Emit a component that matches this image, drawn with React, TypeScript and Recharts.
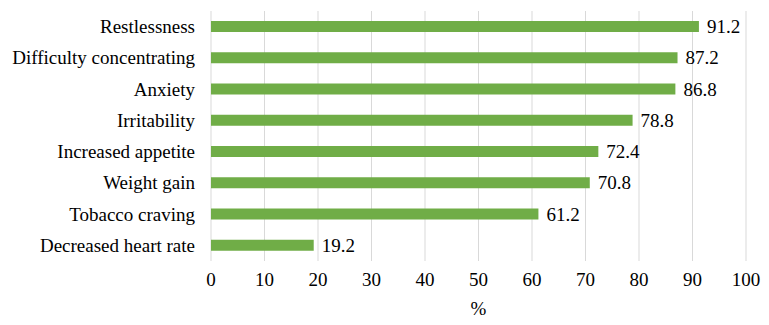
import { Bar, BarChart, CartesianGrid, LabelList, XAxis, YAxis } from 'recharts'

const symptoms = [
  'Restlessness',
  'Difficulty concentrating',
  'Anxiety',
  'Irritability',
  'Increased appetite',
  'Weight gain',
  'Tobacco craving',
  'Decreased heart rate',
]
const percents = [91.2, 87.2, 86.8, 78.8, 72.4, 70.8, 61.2, 19.2]
const xTicks = [0, 10, 20, 30, 40, 50, 60, 70, 80, 90, 100]

const data = symptoms.map((name, i) => ({ name, value: percents[i] }))

const FONT = 'Liberation Serif'
const SIZE = 19
const txt = { fill: '#000', fontSize: SIZE, fontFamily: FONT, style: { fontFamily: FONT, fontSize: SIZE } }

const YTick = ({ x, y, payload }: any) => (
  <text x={x} y={y} textAnchor="end" dominantBaseline="central" {...txt}>
    {payload.value}
  </text>
)

const XTick = ({ x, y, payload }: any) => (
  <text x={x} y={y} textAnchor="middle" dy="0.72em" {...txt}>
    {payload.value}
  </text>
)

const ValueLabel = ({ x, y, width, height, value }: any) => (
  <text x={x + width + 8} y={y + height / 2} dominantBaseline="central" {...txt}>
    {Number(value).toFixed(1)}
  </text>
)

const AxisTitle = ({ viewBox }: any) => (
  <text x={viewBox.x + viewBox.width / 2} y={viewBox.y + viewBox.height} textAnchor="middle" {...txt}>
    %
  </text>
)

export default function App() {
  return (
    <div style={{ position: 'absolute', left: 0, top: 0, background: '#fff' }}>
      <BarChart
        width={769}
        height={325}
        data={data}
        layout="vertical"
        margin={{ top: 11, right: 23, bottom: 10, left: 0 }}
      >
        <CartesianGrid horizontal={false} stroke="#d9d9d9" />
        <XAxis
          type="number"
          domain={[0, 100]}
          ticks={xTicks}
          axisLine={false}
          tickLine={false}
          tickMargin={5}
          height={54}
          tick={<XTick />}
          label={<AxisTitle />}
        />
        <YAxis
          type="category"
          dataKey="name"
          width={211}
          axisLine={false}
          tickLine={false}
          tickMargin={10}
          tick={<YTick />}
        />
        <Bar dataKey="value" fill="#70ad47" barSize={11} isAnimationActive={false}>
          <LabelList dataKey="value" content={<ValueLabel />} />
        </Bar>
      </BarChart>
    </div>
  )
}
